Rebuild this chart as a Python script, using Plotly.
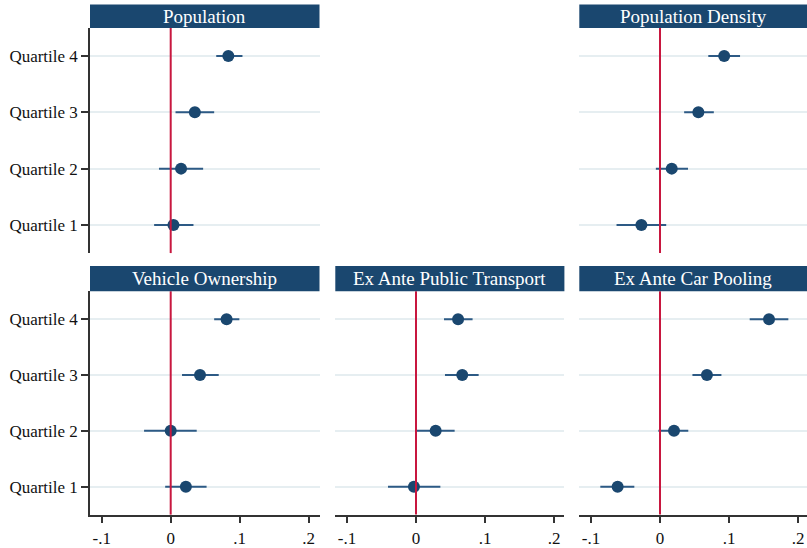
import plotly.graph_objects as go

quartiles = ["Quartile 1", "Quartile 2", "Quartile 3", "Quartile 4"]
x_tick_vals = [-0.1, 0, 0.1, 0.2]
x_tick_text = ["-.1", "0", ".1", ".2"]

panel_titles = ["Population", "Population Density", "Vehicle Ownership",
                "Ex Ante Public Transport", "Ex Ante Car Pooling"]

# point estimates (Quartile 1..4) and 95% CI bounds
pop_coef = [0.004, 0.015, 0.035, 0.0835]
pop_lo = [-0.024, -0.017, 0.007, 0.066]
pop_hi = [0.033, 0.047, 0.063, 0.104]

dens_coef = [-0.027, 0.017, 0.0556, 0.093]
dens_lo = [-0.063, -0.006, 0.035, 0.070]
dens_hi = [0.009, 0.0406, 0.078, 0.116]

veh_coef = [0.022, 0.0, 0.0425, 0.081]
veh_lo = [-0.008, -0.0386, 0.0164, 0.063]
veh_hi = [0.052, 0.0377, 0.0696, 0.0995]

pt_coef = [-0.003, 0.0285, 0.067, 0.061]
pt_lo = [-0.0406, 0.0, 0.042, 0.0406]
pt_hi = [0.0353, 0.056, 0.0908, 0.082]

cp_coef = [-0.0614, 0.0203, 0.068, 0.158]
cp_lo = [-0.0865, -0.0024, 0.047, 0.130]
cp_hi = [-0.0372, 0.041, 0.089, 0.186]

W, H = 807, 548
NAVY = "#1a476f"
CI_COL = "#2d5a85"
RED = "#c8173f"
GRID = "#e6eef1"
AXIS = "#333333"
FONT = "Liberation Serif"

# panel placement (pixels): columns and rows
cols_px = [(90.0, 319.5), (335.3, 564.4), (579.3, 807.0)]
zero_px = [170.7, 416.0, 660.0]
px_per_unit = 690.0
rows_px = [(28.0, 254.0), (292.3, 516.5)]   # plot top, bottom
hdr_px = [(4.5, 28.0), (267.0, 292.3)]

panels = [
    (0, 0, 0, pop_coef, pop_lo, pop_hi),
    (0, 2, 1, dens_coef, dens_lo, dens_hi),
    (1, 0, 2, veh_coef, veh_lo, veh_hi),
    (1, 1, 3, pt_coef, pt_lo, pt_hi),
    (1, 2, 4, cp_coef, cp_lo, cp_hi),
]

fig = go.Figure()
shapes = []
annotations = []
yvals = [1, 2, 3, 4]

for k, (r, c, ti, coef, lo, hi) in enumerate(panels):
    idx = k + 1
    xa = "x" if idx == 1 else f"x{idx}"
    ya = "y" if idx == 1 else f"y{idx}"
    xname = "xaxis" if idx == 1 else f"xaxis{idx}"
    yname = "yaxis" if idx == 1 else f"yaxis{idx}"
    x0p, x1p = cols_px[c]
    t, b = rows_px[r]
    xr = [(x0p - zero_px[c]) / px_per_unit, (x1p - zero_px[c]) / px_per_unit]

    fig.add_trace(go.Scatter(
        x=coef, y=yvals, mode="markers", xaxis=xa, yaxis=ya,
        marker=dict(size=12, color=NAVY),
        error_x=dict(type="data", symmetric=False,
                     array=[h - m for h, m in zip(hi, coef)],
                     arrayminus=[m - l for m, l in zip(coef, lo)],
                     thickness=2, width=0, color=CI_COL),
        showlegend=False, hoverinfo="skip"))

    bottom = r == 1
    left = c == 0
    fig.layout[xname] = dict(
        domain=[x0p / W, x1p / W], range=xr, anchor=ya,
        tickvals=x_tick_vals, ticktext=x_tick_text,
        showticklabels=bottom, ticks="outside" if bottom else "",
        ticklen=7, tickwidth=1.5, tickcolor=AXIS,
        showline=bottom, linecolor=AXIS, linewidth=1.5,
        showgrid=False, zeroline=False, fixedrange=True,
        tickfont=dict(family=FONT, size=17, color="#111111"))
    fig.layout[yname] = dict(
        domain=[1 - b / H, 1 - t / H], range=[0.5, 4.5], anchor=xa,
        tickvals=yvals, ticktext=quartiles,
        showticklabels=left, ticks="outside" if left else "",
        ticklen=7, tickwidth=1.5, tickcolor=AXIS,
        showline=left, linecolor=AXIS, linewidth=1.5,
        showgrid=True, gridcolor=GRID, gridwidth=1.5,
        zeroline=False, fixedrange=True,
        tickfont=dict(family=FONT, size=17, color="#111111"))

    # reference line at zero
    shapes.append(dict(type="line", xref=xa, yref=f"{ya} domain",
                       x0=0, x1=0, y0=0, y1=1,
                       line=dict(color=RED, width=2), layer="above"))
    # header strip
    h0, h1 = hdr_px[r]
    shapes.append(dict(type="rect", xref="paper", yref="paper",
                       x0=x0p / W, x1=x1p / W, y0=1 - h1 / H, y1=1 - h0 / H,
                       fillcolor=NAVY, line=dict(width=0), layer="above"))
    annotations.append(dict(xref="paper", yref="paper",
                            x=(x0p + x1p) / 2 / W, y=1 - (h0 + h1) / 2 / H,
                            text=panel_titles[ti], showarrow=False,
                            xanchor="center", yanchor="middle",
                            font=dict(family=FONT, size=19, color="white")))

fig.update_layout(
    width=W, height=H, margin=dict(l=0, r=0, t=0, b=0),
    paper_bgcolor="white", plot_bgcolor="white",
    shapes=shapes, annotations=annotations,
    font=dict(family=FONT))

fig.write_html("out.html")
